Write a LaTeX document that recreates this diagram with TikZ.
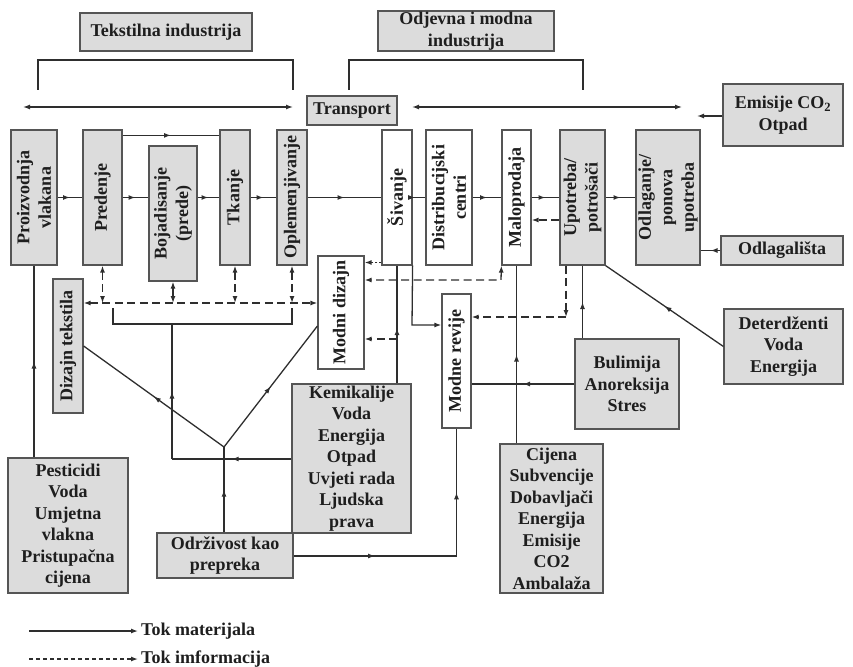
\documentclass[tikz,border=0pt]{standalone}
\usepackage{fontspec}
\setmainfont{Liberation Serif}
\usetikzlibrary{arrows.meta,decorations.markings,calc}
\definecolor{ln}{HTML}{2E2E2E}
\definecolor{bd}{HTML}{555555}
\definecolor{gf}{HTML}{DCDCDC}
\definecolor{tx}{HTML}{1E1E1E}
\newcommand{\dfont}{\fontsize{18}{21.5}\selectfont\bfseries}
\begin{document}
\begin{tikzpicture}[x=1pt,y=-1pt,
  >={Latex[length=7pt,width=5pt]},
  base/.style={draw=bd, line width=1.2pt, font=\dfont, text=tx, align=center, inner sep=1pt},
  gbox/.style={base, fill=gf},
  wbox/.style={base, fill=white},
  vlab/.style={rotate=90, font=\dfont, text=tx, align=center, inner sep=0pt},
  conn/.style={draw=ln, line width=1.3pt},
  info/.style={conn, dash pattern=on 8pt off 4.5pt},
  dots/.style={conn, dash pattern=on 2pt off 2pt},
  brk/.style={draw=ln, line width=2.2pt},
  mid/.style={postaction={decorate,decoration={markings,mark=at position #1 with {\arrow{Latex[length=7pt,width=5pt]}}}}},
  mid/.default=0.5
]
\useasboundingbox (0,0) rectangle (853,666);

% top boxes
\node[gbox,minimum width=172pt,minimum height=38pt] (ti) at (166,32) {Tekstilna industrija};
\node[gbox,minimum width=176pt,minimum height=40pt] (oi) at (466,31) {Odjevna i modna\\industrija};
\node[gbox,minimum width=90pt,minimum height=29pt] (tr) at (352,110.5) {Transport};
\node[gbox,minimum width=120pt,minimum height=62pt] (em) at (783,115) {Emisije CO\textsubscript{2}\\Otpad};
\node[gbox,minimum width=122pt,minimum height=29pt] (od) at (782,250.5) {Odlagališta};

% main row
\node[gbox,minimum width=46pt,minimum height=135pt,label={[vlab]center:{Proizvodnja\\vlakana}}] (pv) at (34,197.5) {};
\node[gbox,minimum width=39pt,minimum height=135pt,label={[vlab]center:{Predenje}}] (pr) at (102.5,197.5) {};
\node[gbox,minimum width=48pt,minimum height=135pt,label={[vlab]center:{Bojadisanje\\(prede)}}] (bo) at (173,213.5) {};
\node[gbox,minimum width=30pt,minimum height=135pt,label={[vlab]center:{Tkanje}}] (tk) at (235,197.5) {};
\node[gbox,minimum width=30pt,minimum height=135pt,label={[vlab]center:{Oplemenjivanje}}] (op) at (292,197.5) {};
\node[wbox,minimum width=30pt,minimum height=135pt,label={[vlab]center:{Šivanje}}] (si) at (397,197.5) {};
\node[wbox,minimum width=46pt,minimum height=135pt,label={[vlab]center:{Distribucijski\\centri}}] (dc) at (449,197.5) {};
\node[wbox,minimum width=29pt,minimum height=135pt,label={[vlab]center:{Maloprodaja}}] (ma) at (516.5,197.5) {};
\node[gbox,minimum width=45pt,minimum height=135pt,label={[vlab]center:{Upotreba/\\potrošači}}] (up) at (582.5,197.5) {};
\node[gbox,minimum width=64pt,minimum height=135pt,label={[vlab]center:{Odlaganje/\\ponova\\upotreba}}] (ol) at (668,197.5) {};

% middle vertical boxes
\node[gbox,minimum width=30pt,minimum height=134pt,label={[vlab]center:{Dizajn tekstila}}] (dt) at (68,346) {};
\node[wbox,minimum width=46pt,minimum height=113pt,label={[vlab]center:{Modni dizajn}}] (md) at (341,312.5) {};
\node[wbox,minimum width=29pt,minimum height=134pt,label={[vlab]center:{Modne revije}}] (mr) at (456.5,361) {};

% lower boxes
\node[gbox,minimum width=119pt,minimum height=149pt] (ke) at (351.5,458.5) {Kemikalije\\Voda\\Energija\\Otpad\\Uvjeti rada\\Ljudska\\prava};
\node[gbox,minimum width=136pt,minimum height=45pt] (ok) at (225,555.5) {Održivost kao\\prepreka};
\node[gbox,minimum width=120pt,minimum height=135pt] (pe) at (68,525.5) {Pesticidi\\Voda\\Umjetna\\vlakna\\Pristupačna\\cijena};
\node[gbox,minimum width=103pt,minimum height=149pt] (ci) at (551.5,518.5) {Cijena\\Subvencije\\Dobavljači\\Energija\\Emisije\\CO2\\Ambalaža};
\node[gbox,minimum width=104pt,minimum height=90pt] (bu) at (627,384) {Bulimija\\Anoreksija\\Stres};
\node[gbox,minimum width=119pt,minimum height=75pt] (de) at (783.5,346.5) {Deterdženti\\Voda\\Energija};

% brackets
\draw[brk] (38,90) -- (38,60) -- (293,60) -- (293,90);
\draw[brk] (349,90) -- (349,60) -- (583,60) -- (583,90);
\draw[brk] (113,308) -- (113,324) -- (292,324) -- (292,308);

% transport lines
\coordinate (ta) at (23,107);
\coordinate (tb) at (293,107);
\coordinate (tc) at (412,107);
\coordinate (td) at (682,107);
\draw[conn,<->] (ta) -- (tb);
\draw[conn,<->] (tc) -- (td);
\coordinate (ea) at (697,116);
\draw[conn,->] (em.west |- ea) -- (ea);
\draw[conn,mid] (od.west) -- (ol.east |- od.west);

% main flow
\draw[conn,mid] (pv.east) -- (pr.west);
\draw[conn,mid] (pr.east) -- (bo.west |- pr.east);
\draw[conn,mid] (bo.east |- pr.east) -- (tk.west);
\draw[conn,mid] (tk.east) -- (op.west);
\draw[conn,mid] ($(pr.north east)+(0,6)$) -- ($(tk.north west)+(0,6)$);
\draw[conn,mid] (op.east) -- (si.west);
\draw[conn,mid=0.2] (si.east) -- (dc.west);
\draw[conn,mid] (dc.east) -- (ma.west);
\draw[conn,mid] (ma.east) -- (up.west);
\draw[conn,mid] (up.east) -- (ol.west);
\draw[info,->] ($(up.west)+(0,22.5)$) -- ($(ma.east)+(0,22.5)$);

% pesticidi
\draw[conn,mid] (pv.south |- pe.north) -- (pv.south);

% information line
\coordinate (dl) at (0,303);
\draw[info,<->] (dt.east |- dl) -- (md.west |- dl);
\draw[info,<->] (pr.south) -- (pr.south |- dl);
\draw[info,<->] (bo.south) -- (bo.south |- dl);
\draw[info,<->] (tk.south) -- (tk.south |- dl);
\draw[info,<->] (op.south) -- (op.south |- dl);

% kemikalije to bracket
\coordinate (kb) at (172,459);
\coordinate (bk) at (172,324);
\draw[conn,mid] (ke.west |- kb) -- (kb);
\draw[conn,mid] (kb) -- (bk);

% V shape
\coordinate (j) at (224,447);
\draw[conn,mid] (j |- ok.north) -- (j);
\draw[conn,mid] (j) -- (dt.east);
\draw[conn,mid] (j) -- ($(md.west)+(0,13.5)$);

% sivanje
\draw[conn,mid=0.47] (si.south |- ke.north) -- (si.south);
\coordinate (sd) at (0,339);
\draw[info,->] (si.south |- sd) -- (md.east |- sd);
\coordinate (sp) at (0,262.5);
\draw[dots,->] (si.west |- sp) -- (md.east |- sp);
\coordinate (sr) at (412,325);
\draw[conn,->] (si.south east) -- (sr) -- (mr.west |- sr);

% maloprodaja info
\coordinate (mc) at (501,280);
\draw[info,<->] (ma.south west) -- (mc) -- (md.east |- mc);
% upotreba info
\coordinate (uc) at (566,317);
\draw[info,->] (up.south -| uc) -- (uc);
\draw[info,->] (uc) -- (mr.east |- uc);

% cijena, bulimija, deterdzenti
\draw[conn,mid] (ma.south |- ci.north) -- (ma.south);
\draw[conn,mid] (up.south |- bu.north) -- (up.south);
\draw[conn,mid] (bu.west) -- (mr.east |- bu.west);
\draw[conn,mid] (de.west) -- (up.south east);

% odrzivost to modne revije
\coordinate (oc) at (456.5,556);
\draw[conn,mid] (ok.east |- oc) -- (oc);
\draw[conn,mid] (oc) -- (mr.south);

% legend
\node[anchor=west,font=\dfont,text=tx,inner sep=0pt] (lm) at (141,631) {Tok materijala};
\node[anchor=west,font=\dfont,text=tx,inner sep=0pt] (li) at (141,659) {Tok imformacija};
\coordinate (l1) at (29,631);
\coordinate (l2) at (29,659);
\draw[conn,->] (l1) -- ($(lm.west)+(-3,0)$);
\draw[conn,dash pattern=on 4pt off 3pt,->] (l2) -- ($(li.west)+(-3,0)$);
\end{tikzpicture}
\end{document}
